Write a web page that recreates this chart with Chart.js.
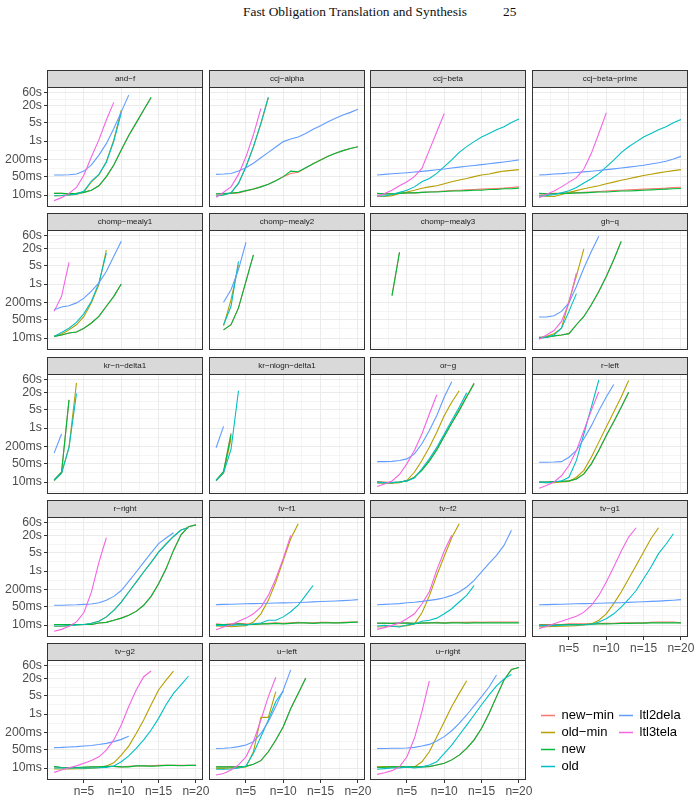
<!DOCTYPE html>
<html>
<head>
<meta charset="utf-8">
<title>Fast Obligation Translation and Synthesis</title>
<script src="https://cdn.jsdelivr.net/npm/chart.js@4.4.1/dist/chart.umd.min.js"></script>
<style>
  html, body { margin: 0; padding: 0; background: #fff; }
  #page { position: relative; width: 699px; height: 801px; overflow: hidden; }
  .running-head { position: absolute; top: 4px; font-family: "Liberation Serif", "Times New Roman", serif; font-size: 13.4px; line-height: 16px; color: #111; white-space: nowrap; }
  canvas { position: absolute; }
</style>
</head>
<body>
<div id="page">
  <div class="running-head" style="left:243px">Fast Obligation Translation and Synthesis</div>
  <div class="running-head" style="left:503px">25</div>
</div>
<script>
// Series order follows the legend: new-min, old-min, new, old, ltl2dela, ltl3tela
const seriesNames = ['new−min', 'old−min', 'new', 'old', 'ltl2dela', 'ltl3tela'];
const panelNames = [
    'and−f', 'ccj−alpha', 'ccj−beta', 'ccj−beta−prime',
    'chomp−mealy1', 'chomp−mealy2', 'chomp−mealy3', 'gh−q',
    'kr−n−delta1', 'kr−nlogn−delta1', 'or−g', 'r−left',
    'r−right', 'tv−f1', 'tv−f2', 'tv−g1',
    'tv−g2', 'u−left', 'u−right'
];
const yTickValues = [10, 50, 200, 1000, 5000, 20000, 60000]; // ms
const yTickLabels = ['10ms', '50ms', '200ms', '1s', '5s', '20s', '60s'];
const xTickValues = [5, 10, 15, 20];
const xTickLabels = ['n=5', 'n=10', 'n=15', 'n=20'];

// Run times in ms, index 0 is n=1 (null = no run at that size)
const andF = [
    [11.5, 11.5, 11, 11.5, 12.5, 15, 22, 47, 130, 460, 1600, 4700, 14000, 40000],
    [9.4, 9.4, 10, 10.6, 13, 31, 55, 170, 1100, 14000],
    [11.5, 11.5, 11, 11.5, 12.5, 15, 22, 48, 130, 460, 1600, 4700, 14000, 42000],
    [9.4, 9.6, 10, 10.8, 14, 33, 58, 165, 1000, 11000],
    [55, 55, 56, 60, 77, 130, 300, 800, 2900, 12000, 50000],
    [6.2, 8, 11.5, 19, 55, 260, 1100, 6000, 27000]
];
const ccjAlpha = [
    [11, 11, 11.5, 12, 14, 16.5, 20, 25, 34, 48, 63, 70, 100, 145, 200, 270, 350, 440, 530, 610],
    [9.2, 10, 12, 27, 110, 600, 4300, 40000],
    [11, 11.3, 11.8, 12.5, 14.5, 16.7, 20, 25, 34, 48, 77, 73, 103, 145, 200, 270, 350, 440, 530, 610],
    [9.2, 10, 12, 27, 112, 620, 4500, 42000],
    [58, 60, 63, 77, 103, 150, 240, 380, 600, 950, 1180, 1400, 1900, 2700, 3700, 5200, 7000, 9200, 11500, 15000],
    [8.2, 12.6, 20, 58, 260, 1700, 16000]
];
const ccjBeta = [
    [11, 11, 11, 11.5, 12, 12, 12.5, 13, 13.5, 14, 14.5, 15, 15.5, 16, 16.5, 17, 17.5, 18, 19, 20],
    [9.2, 8.8, 9.5, 11.5, 13, 15, 17.7, 20, 22, 26, 31, 36, 41, 48, 55, 60, 69, 77, 82, 87],
    [11.5, 11, 11, 11.5, 12, 12, 12.5, 13, 13, 13.5, 14, 14, 14.5, 15, 15, 16, 16, 17, 17, 18],
    [9.2, 9.2, 10.5, 12.5, 15, 20, 31, 41, 63, 112, 200, 380, 620, 950, 1400, 1900, 2600, 3400, 4800, 6500],
    [55, 58, 61, 64, 67, 71, 75, 80, 86, 92, 100, 108, 116, 124, 133, 143, 155, 168, 183, 200],
    [8.7, 11.5, 15, 22, 31, 48, 97, 460, 2200, 10500]
];
const ccjBetaPrime = [
    [11, 11, 11.5, 11.5, 12, 12, 12.5, 13, 13.5, 14, 14.5, 15, 15.5, 16, 16.5, 17, 17.5, 18, 19, 19.5],
    [9.5, 9, 8.8, 10.5, 12.5, 14.5, 17, 19.5, 22, 26, 30, 35, 40, 46, 53, 59, 66, 73, 80, 87],
    [11.5, 11, 11, 11.5, 11.5, 12, 12, 12.5, 13, 13, 13.5, 14, 14, 14.5, 15, 15.5, 16, 16.5, 17, 17.5],
    [9.2, 9.5, 10.5, 12, 14.5, 19, 28, 40, 62, 110, 195, 370, 610, 930, 1400, 1900, 2600, 3400, 4700, 6300],
    [55, 57, 60, 62, 65, 68, 72, 76, 81, 87, 93, 100, 108, 117, 127, 140, 156, 178, 215, 270],
    [8, 10.6, 14, 20, 30, 44, 92, 350, 1900, 11000]
];
const chompMealy1 = [
    [11.5, 13, 15.3, 16.7, 23, 36, 63, 150, 350, 1000],
    [11.5, 14, 20, 31, 63, 200, 950, 18000],
    [11.5, 13, 15.3, 16.7, 23, 36, 63, 150, 350, 1000],
    [11.5, 16, 23, 38, 80, 230, 1100, 14000],
    [112, 140, 157, 200, 300, 540, 1100, 2900, 10600, 38000],
    [97, 350, 6300]
];
const chompMealy2 = [
    [null, 20, 31, 130, 1260, 12000],
    [null, 28, 260, 5000],
    [null, 20, 31, 130, 1260, 12000],
    [null, 31, 150, 6900],
    [null, 210, 610, 3400, 35000],
    []
];
const chompMealy3 = [
    [null, null, 380, 15000],
    [],
    [null, null, 370, 15000],
    [],
    [],
    []
];
const ghQ = [
    [10.6, 10.8, 12, 13, 14.5, 31, 63, 170, 530, 1900, 7900, 38000],
    [10, 11.5, 14.5, 23, 230, 2000, 20000],
    [10.6, 10.8, 12, 13, 14.5, 31, 63, 170, 530, 1900, 7900, 38000],
    [9.5, 10.6, 13, 23, 97, 440],
    [60, 60, 67, 97, 200, 815, 3900, 16000, 59000],
    [9, 13, 19, 41, 200, 2600]
];
const krNDelta1 = [
    [12, 23, 11000],
    [11, 21, 195, 47000],
    [12, 23, 11000],
    [11.5, 21, 190, 19000],
    [117, 600],
    []
];
const krNlognDelta1 = [
    [11.5, 24, 650],
    [11, 21, 400],
    [11.5, 25, 570],
    [11.5, 22, 160, 24000],
    [185, 1150],
    []
];
const orG = [
    [10.5, 10, 9.5, 10, 11, 15, 28, 62, 165, 520, 1600, 4700, 15000, 46000],
    [9.2, 9, 9, 9.5, 11.5, 23, 63, 195, 700, 2900, 9000, 24000],
    [10, 9.5, 9.5, 10, 11, 15, 27, 59, 155, 490, 1500, 4400, 14000, 44000],
    [9.5, 9.5, 9.5, 10, 11, 14, 31, 72, 195, 600, 1900, 5900, 20000],
    [57, 57, 58, 63, 72, 110, 260, 810, 2900, 14000, 52000],
    [6.8, 8.5, 11, 19, 48, 147, 600, 3300, 17000]
];
const rLeft = [
    [10, 10, 10.5, 10.5, 11, 13, 20, 47, 147, 530, 1700, 5900, 21000],
    [9.7, 9.5, 9.5, 10, 10.5, 15, 27, 83, 300, 1100, 3900, 14000, 57000],
    [10, 10, 10.5, 10.5, 11, 13, 20, 47, 147, 530, 1700, 5900, 21000],
    [10, 9.5, 10, 11, 15, 63, 600, 5900, 60000],
    [54, 54, 55, 57, 83, 147, 400, 1200, 4400, 14000, 41000],
    [5.9, 7.4, 10, 17, 41, 147, 810, 4500, 22000]
];
const rRight = [
    [10.5, 10.5, 10.5, 10.5, 10.5, 10.5, 11.9, 12.5, 15, 18, 23, 32, 54, 115, 340, 1200, 5800, 22000, 44000, 51000],
    [9, 9, 9.5, 10, 10.5, 11.6, 13.7, 20, 35, 71, 167, 390, 920, 2100, 5000, 10000, 19000, 33000, 42000],
    [10.5, 10.5, 10.5, 10.5, 10.5, 10.5, 11.9, 12.5, 15, 18, 23, 32, 54, 115, 340, 1200, 5800, 22000, 44000, 51000],
    [9.2, 9.2, 9.5, 10, 10.5, 11.6, 13.7, 20, 35, 71, 167, 390, 920, 2100, 5000, 10000, 19000, 33000, 40000],
    [54, 54, 55, 56, 58, 60, 67, 82, 115, 190, 415, 920, 2100, 4700, 10300, 16600, 26000],
    [5.9, 6.9, 9, 13, 29, 165, 2100, 17000]
];
const tvF1 = [
    [11, 10.5, 11, 11.5, 11, 10.5, 11, 11.5, 12, 11.5, 12, 12.5, 12, 12, 12.5, 12.5, 12, 12.5, 13, 13],
    [9.3, 9.1, 8.6, 9, 9.5, 12.9, 26, 82, 390, 2500, 15700, 56000],
    [10.5, 10.5, 10.5, 11, 10.5, 10.5, 11, 11, 11.5, 11, 11.5, 12, 12, 11.5, 12, 12, 12, 12, 12.5, 12.8],
    [9.5, 9.9, 9.6, 10.2, 9.9, 11.1, 11.9, 15, 15, 20, 31, 54, 125, 290],
    [57, 58, 59, 60, 61, 62, 63, 64, 65, 66, 67, 68, 70, 72, 74, 76, 78, 80, 83, 87],
    [6.7, 8.5, 10.3, 13.7, 18, 26, 46, 125, 520, 2900, 21000]
];
const tvF2 = [
    [11.5, 11.5, 11.5, 12, 12, 11.5, 12, 12, 12.5, 12, 12.5, 12.5, 12.5, 13, 12.5, 13, 13, 13, 13, 13],
    [8.4, 8.6, 9, 9, 9.5, 11, 28, 120, 700, 3500, 17000, 56000],
    [11.8, 11.8, 11.5, 11.8, 11.8, 11.5, 11.8, 12, 12, 11.8, 12, 12, 11.8, 12, 12, 12, 12, 12, 12, 12],
    [9.2, 9.7, 9, 8.5, 10, 11, 13.7, 15, 18, 26, 40, 71, 125, 290],
    [56, 58, 60, 62, 67, 70, 75, 82, 89, 103, 125, 167, 255, 450, 920, 1900, 3800, 8900, 32000],
    [6.9, 8, 9.7, 12, 17, 26, 60, 170, 1100, 5500, 21000]
];
const tvG1 = [
    [10.5, 10.5, 10.5, 10.5, 11, 11, 11, 11, 11.5, 11.5, 11.5, 12, 12, 12, 12, 12.5, 13, 13, 13, 12],
    [8.5, 8.6, 8.8, 9, 9.2, 9.5, 10, 11, 15, 26, 62, 167, 520, 1600, 5100, 16000, 40000],
    [10, 10, 10, 10.2, 10.5, 10.5, 10.5, 10.8, 11, 11, 11.2, 11.5, 11.5, 11.8, 11.8, 12, 12, 12, 12, 12],
    [9.5, 9.5, 9.5, 9.8, 10, 10, 10.2, 10.5, 13, 17, 26, 46, 90, 190, 520, 1400, 4400, 9800, 24000],
    [56, 57, 58, 59, 60, 61, 62, 63, 64, 65, 66, 67, 69, 71, 73, 75, 77, 80, 83, 87],
    [7.3, 9, 11.2, 13.7, 17, 21, 30, 53, 125, 390, 1400, 5400, 18000, 40000]
];
const tvG2 = [
    [11, 10.5, 10.5, 10.5, 10.5, 11, 11, 11.5, 11.5, 11, 11.5, 12, 12, 12, 12.5, 12.5, 12.5, 12.5, 12.5, 12.5],
    [9.2, 9.2, 9.3, 9.4, 9.5, 9.8, 10.2, 11.9, 15.5, 30, 65, 190, 600, 2200, 7800, 18000, 39000],
    [11.5, 10.5, 10.2, 10.5, 10.8, 11, 11, 11.5, 11.5, 11, 11, 12, 12, 11.8, 12, 12.5, 12.5, 12.2, 12.5, 12.5],
    [10, 10, 10, 10, 9.8, 10, 10.2, 10.6, 11.9, 17, 28, 53, 110, 255, 690, 2200, 5800, 12000, 25000],
    [57, 58, 60, 62, 65, 68, 74, 82, 95, 115, 150],
    [6.9, 8.4, 10.3, 12, 15, 19, 26, 46, 110, 390, 1900, 7800, 24000, 39000]
];
const uLeft = [
    [11, 11, 11, 11, 11.5, 13.7, 18.7, 40, 109, 340, 1600, 5800, 21000],
    [9.7, 9.7, 10, 10.3, 11, 40, 750, 750, 6700],
    [11, 11, 11, 11, 11.5, 13.7, 18.7, 40, 109, 340, 1600, 5800, 21000],
    [9, 9, 9.2, 10, 11.9, 35, 145, 600, 2900, 7000],
    [53, 54, 56, 62, 71, 94, 190, 520, 1900, 7800, 43000],
    [5.5, 6.3, 8.4, 13, 26, 94, 600, 4400, 23000]
];
const uRight = [
    [11, 11, 11, 11, 11, 11, 11, 11.5, 13, 15, 20, 30, 53, 110, 295, 1050, 4400, 18000, 45000, 53000],
    [11, 11, 11, 11, 11, 11, 17, 40, 145, 520, 1900, 5800, 17000],
    [10.5, 10.8, 11, 11, 11, 11, 11, 11.2, 13, 15, 20, 30, 53, 110, 295, 1050, 4400, 18000, 45000, 53000],
    [9, 9.5, 10, 10, 11, 10, 11, 13, 17, 35, 71, 167, 390, 920, 2200, 5100, 11000, 20000, 29000],
    [53, 53, 54, 54, 55, 58, 65, 75, 100, 145, 240, 450, 920, 2000, 4400, 10000, 28000],
    [5.8, 6.7, 8, 11, 26, 126, 1200, 17000]
];

const panelData = [
    andF, ccjAlpha, ccjBeta, ccjBetaPrime,
    chompMealy1, chompMealy2, chompMealy3, ghQ,
    krNDelta1, krNlognDelta1, orG, rLeft,
    rRight, tvF1, tvF2, tvG1,
    tvG2, uLeft, uRight
];

// ggplot default hue palette for six groups
const seriesColors = ['#F8766D', '#B79F00', '#00BA38', '#00BFC4', '#619CFF', '#F564E3'];

// Facet geometry (page pixels)
const colLeft = [47, 209, 370, 532];
const rowTop = [87, 230, 374, 517, 660];
const panelW = 156;
const panelH = 120;
const stripH = 17;
const yAxisW = 47;
const xAxisH = 20;
const labelOverhang = 12; // room for "n=20" sticking out past the panel

const yMin = 3.6;
const yMax = 100000;
const xMin = 0.05;
const xMax = 20.95;

Chart.defaults.font.family = '"Liberation Sans", Arial, sans-serif';

// minor breaks sit halfway between the majors on the log scale
const yLogs = yTickValues.map(v => Math.log10(v));
const yMinor = [Math.pow(10, yLogs[0] - (yLogs[1] - yLogs[0]) / 2)];
for (let i = 0; i < yLogs.length - 1; i++) {
    yMinor.push(Math.pow(10, (yLogs[i] + yLogs[i + 1]) / 2));
}
const yGrid = yMinor.concat(yTickValues).sort((a, b) => a - b);
const xGrid = [2.5, 5, 7.5, 10, 12.5, 15, 17.5, 20];

function isMajorY(v) {
    return yTickValues.some(t => Math.abs(t - v) / t < 1e-6);
}

function isMajorX(v) {
    return xTickValues.includes(v);
}

// Strip on top of each panel plus the dark panel border
const panelFrame = {
    id: 'panelFrame',
    afterDraw(chart, args, opts) {
        const { ctx, chartArea: a } = chart;
        const w = a.right - a.left;
        ctx.save();
        ctx.fillStyle = '#d9d9d9';
        ctx.fillRect(a.left, a.top - stripH, w, stripH);
        ctx.strokeStyle = '#333333';
        ctx.lineWidth = 1;
        ctx.strokeRect(a.left + 0.5, a.top - stripH + 0.5, w - 1, stripH);
        ctx.strokeRect(a.left + 0.5, a.top + 0.5, w - 1, a.bottom - a.top - 1);
        ctx.fillStyle = '#1a1a1a';
        ctx.font = '8px "Liberation Sans", Arial, sans-serif';
        ctx.textAlign = 'center';
        ctx.textBaseline = 'middle';
        ctx.fillText(opts.title, a.left + w / 2, a.top - stripH / 2 + 0.5);
        ctx.restore();
    }
};

function toPoints(values) {
    return values.map((v, i) => ({ x: i + 1, y: v }));
}

function makePanel(index) {
    const col = index % 4;
    const row = Math.floor(index / 4);
    const showY = col === 0;
    const showX = index >= 15;
    const extraRight = showX ? labelOverhang : 0;

    const canvas = document.createElement('canvas');
    const left = showY ? 0 : colLeft[col] - 2;
    const width = (showY ? yAxisW + panelW + 2 : panelW + 4) + extraRight;
    const top = rowTop[row] - stripH - 2;
    const height = 2 + stripH + panelH + (showX ? xAxisH : 2);
    canvas.width = width;
    canvas.height = height;
    canvas.style.left = left + 'px';
    canvas.style.top = top + 'px';
    canvas.style.width = width + 'px';
    canvas.style.height = height + 'px';
    document.getElementById('page').appendChild(canvas);

    const series = panelData[index];
    const datasets = seriesNames.map((name, s) => ({
        label: name,
        data: toPoints(series[s]),
        borderColor: seriesColors[s],
        backgroundColor: seriesColors[s],
        borderWidth: 1.1,
        pointRadius: 0,
        tension: 0,
        fill: false,
        order: seriesNames.length - s // later groups drawn on top, as in ggplot
    }));

    new Chart(canvas, {
        type: 'line',
        data: { datasets: datasets },
        options: {
            responsive: false,
            animation: false,
            events: [],
            layout: {
                padding: { left: showY ? 0 : 2, right: 2 + extraRight, top: 2 + stripH, bottom: showX ? 0 : 2 }
            },
            scales: {
                x: {
                    type: 'linear',
                    min: xMin,
                    max: xMax,
                    bounds: 'data',
                    afterBuildTicks: scale => { scale.ticks = xGrid.map(v => ({ value: v })); },
                    afterFit: scale => {
                        scale.height = showX ? xAxisH : 0;
                        scale.paddingLeft = 0;
                        scale.paddingRight = 0;
                    },
                    border: { display: false },
                    grid: {
                        color: '#ebebeb',
                        lineWidth: ctx => (ctx.tick && isMajorX(ctx.tick.value)) ? 1 : 0.5,
                        drawTicks: showX,
                        tickLength: 3,
                        tickColor: ctx => (ctx.tick && isMajorX(ctx.tick.value)) ? '#333333' : 'rgba(0,0,0,0)'
                    },
                    ticks: {
                        display: showX,
                        autoSkip: false,
                        maxRotation: 0,
                        padding: 1,
                        color: '#4d4d4d',
                        font: { size: 12 },
                        callback: value => {
                            const k = xTickValues.indexOf(value);
                            return k >= 0 ? xTickLabels[k] : '';
                        }
                    }
                },
                y: {
                    type: 'logarithmic',
                    min: yMin,
                    max: yMax,
                    bounds: 'data',
                    afterBuildTicks: scale => { scale.ticks = yGrid.map(v => ({ value: v })); },
                    afterFit: scale => {
                        scale.width = showY ? yAxisW : 0;
                        scale.paddingTop = 0;
                        scale.paddingBottom = 0;
                    },
                    border: { display: false },
                    grid: {
                        color: '#ebebeb',
                        lineWidth: ctx => (ctx.tick && isMajorY(ctx.tick.value)) ? 1 : 0.5,
                        drawTicks: showY,
                        tickLength: 3,
                        tickColor: ctx => (ctx.tick && isMajorY(ctx.tick.value)) ? '#333333' : 'rgba(0,0,0,0)'
                    },
                    ticks: {
                        display: showY,
                        autoSkip: false,
                        padding: 2,
                        color: '#4d4d4d',
                        font: { size: 12.3 },
                        callback: value => {
                            const k = yTickValues.findIndex(t => Math.abs(t - value) / t < 1e-6);
                            return k >= 0 ? yTickLabels[k] : '';
                        }
                    }
                }
            },
            plugins: {
                legend: { display: false },
                tooltip: { enabled: false },
                panelFrame: { title: panelNames[index] }
            }
        },
        plugins: [panelFrame]
    });
}

// Legend: two columns in the empty bottom-right cell.
// The canvas is kept narrow so every key wraps onto its own row.
function makeLegend(first, last, left, top, width) {
    const canvas = document.createElement('canvas');
    canvas.width = width;
    canvas.height = 170;
    canvas.style.left = left + 'px';
    canvas.style.top = top + 'px';
    canvas.style.width = width + 'px';
    canvas.style.height = '170px';
    document.getElementById('page').appendChild(canvas);

    new Chart(canvas, {
        type: 'line',
        data: {
            datasets: seriesNames.map((name, s) => ({
                label: name,
                data: [],
                borderColor: seriesColors[s],
                backgroundColor: seriesColors[s],
                borderWidth: 1.5,
                pointStyle: 'line'
            }))
        },
        options: {
            responsive: false,
            animation: false,
            events: [],
            scales: { x: { display: false }, y: { display: false } },
            plugins: {
                tooltip: { enabled: false },
                legend: {
                    display: true,
                    position: 'top',
                    align: 'start',
                    labels: {
                        usePointStyle: true,
                        pointStyleWidth: 14,
                        padding: 4,
                        color: '#000000',
                        font: { size: 13 },
                        filter: item => item.datasetIndex >= first && item.datasetIndex <= last
                    }
                }
            }
        }
    });
}

panelNames.forEach((name, i) => makePanel(i));
makeLegend(0, 3, 537, 705, 82);
makeLegend(4, 5, 615, 705, 84);
</script>
</body>
</html>
